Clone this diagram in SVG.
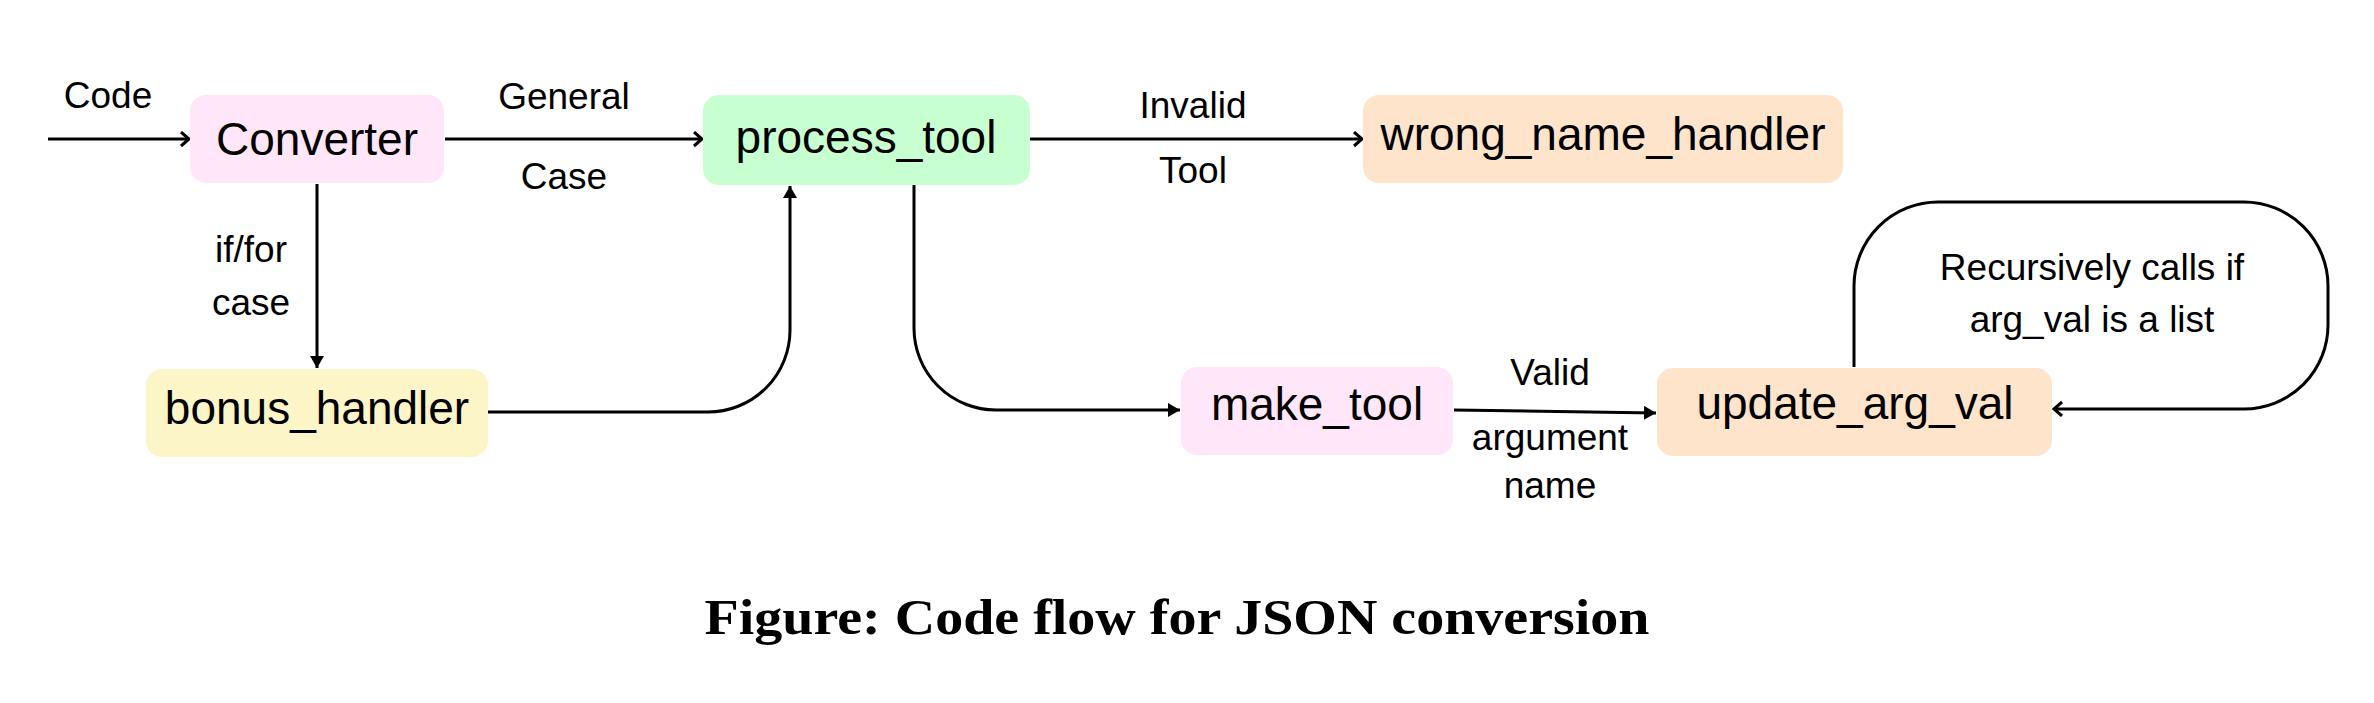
<svg xmlns="http://www.w3.org/2000/svg" width="2374" height="703" viewBox="0 0 2374 703">
<style>
  .node-label { font-family: "Liberation Sans", Arial, Helvetica, sans-serif; font-size: 46px; fill: #000; text-anchor: middle; }
  .edge-label { font-family: "Liberation Sans", Arial, Helvetica, sans-serif; font-size: 37px; fill: #000; text-anchor: middle; }
  .conn { fill: none; stroke: #000; stroke-width: 3; }
  .caption { font-family: "Liberation Serif", "Times New Roman", serif; font-weight: bold; font-size: 50px; fill: #000; text-anchor: middle; }
</style>
<defs>
  <marker id="open" markerUnits="userSpaceOnUse" markerWidth="14" markerHeight="18" refX="10" refY="8" orient="auto">
    <path d="M2,1 L10,8 L2,15" fill="none" stroke="#000" stroke-width="3"/>
  </marker>
  <marker id="solid" markerUnits="userSpaceOnUse" markerWidth="14" markerHeight="16" refX="12" refY="7" orient="auto">
    <path d="M0,0 L12,7 L0,14 Z" fill="#000"/>
  </marker>
</defs>
<rect width="2374" height="703" fill="#fff"/>

<g id="connectors">
  <path class="conn" d="M48 139 H189" stroke-width="2.5" marker-end="url(#open)"/>
  <path class="conn" d="M445 139 H702" marker-end="url(#open)"/>
  <path class="conn" d="M1030 139 H1362" marker-end="url(#open)"/>
  <path class="conn" d="M317 184 V368" marker-end="url(#solid)"/>
  <path class="conn" d="M488 412 H708 A82 82 0 0 0 790 330 V186" marker-end="url(#solid)"/>
  <path class="conn" d="M914 185 V328 A82 82 0 0 0 996 410 H1180" marker-end="url(#solid)"/>
  <path class="conn" d="M1454 410 L1656 413" marker-end="url(#solid)"/>
  <path class="conn" d="M1854 367 V286 A84 84 0 0 1 1938 202 H2244 A84 84 0 0 1 2328 286 V325 A84 84 0 0 1 2244 409 H2054" marker-end="url(#open)"/>
</g>

<g id="edge-labels">
  <text class="edge-label" x="108" y="108">Code</text>
  <text class="edge-label" x="564" y="109">General</text>
  <text class="edge-label" x="564" y="189">Case</text>
  <text class="edge-label" x="1193" y="118">Invalid</text>
  <text class="edge-label" x="1193" y="183">Tool</text>
  <text class="edge-label" x="251" y="262">if/for</text>
  <text class="edge-label" x="251" y="315">case</text>
  <text class="edge-label" x="1550" y="385">Valid</text>
  <text class="edge-label" x="1550" y="450">argument</text>
  <text class="edge-label" x="1550" y="498">name</text>
  <text class="edge-label" x="2092" y="280">Recursively calls if</text>
  <text class="edge-label" x="2092" y="332">arg_val is a list</text>
</g>

<g id="converter">
  <rect x="190" y="95" width="254" height="88" rx="16" fill="#FFE6F8"/>
  <text class="node-label" x="317" y="155" font-size="41">Converter</text>
</g>
<g id="process_tool">
  <rect x="703" y="95" width="327" height="90" rx="16" fill="#C8FFD0"/>
  <text class="node-label" x="866" y="153">process_tool</text>
</g>
<g id="wrong_name_handler">
  <rect x="1363" y="95" width="480" height="88" rx="16" fill="#FFE4CC"/>
  <text class="node-label" x="1603" y="150">wrong_name_handler</text>
</g>
<g id="bonus_handler">
  <rect x="146" y="369" width="342" height="88" rx="16" fill="#FCF5C8"/>
  <text class="node-label" x="317" y="424">bonus_handler</text>
</g>
<g id="make_tool">
  <rect x="1181" y="367" width="272" height="88" rx="16" fill="#FFE6F8"/>
  <text class="node-label" x="1317" y="420">make_tool</text>
</g>
<g id="update_arg_val">
  <rect x="1657" y="368" width="395" height="88" rx="16" fill="#FFE4CC"/>
  <text class="node-label" x="1855" y="419">update_arg_val</text>
</g>

<text class="caption" x="1177" y="634" textLength="945" lengthAdjust="spacingAndGlyphs">Figure: Code flow for JSON conversion</text>
</svg>
